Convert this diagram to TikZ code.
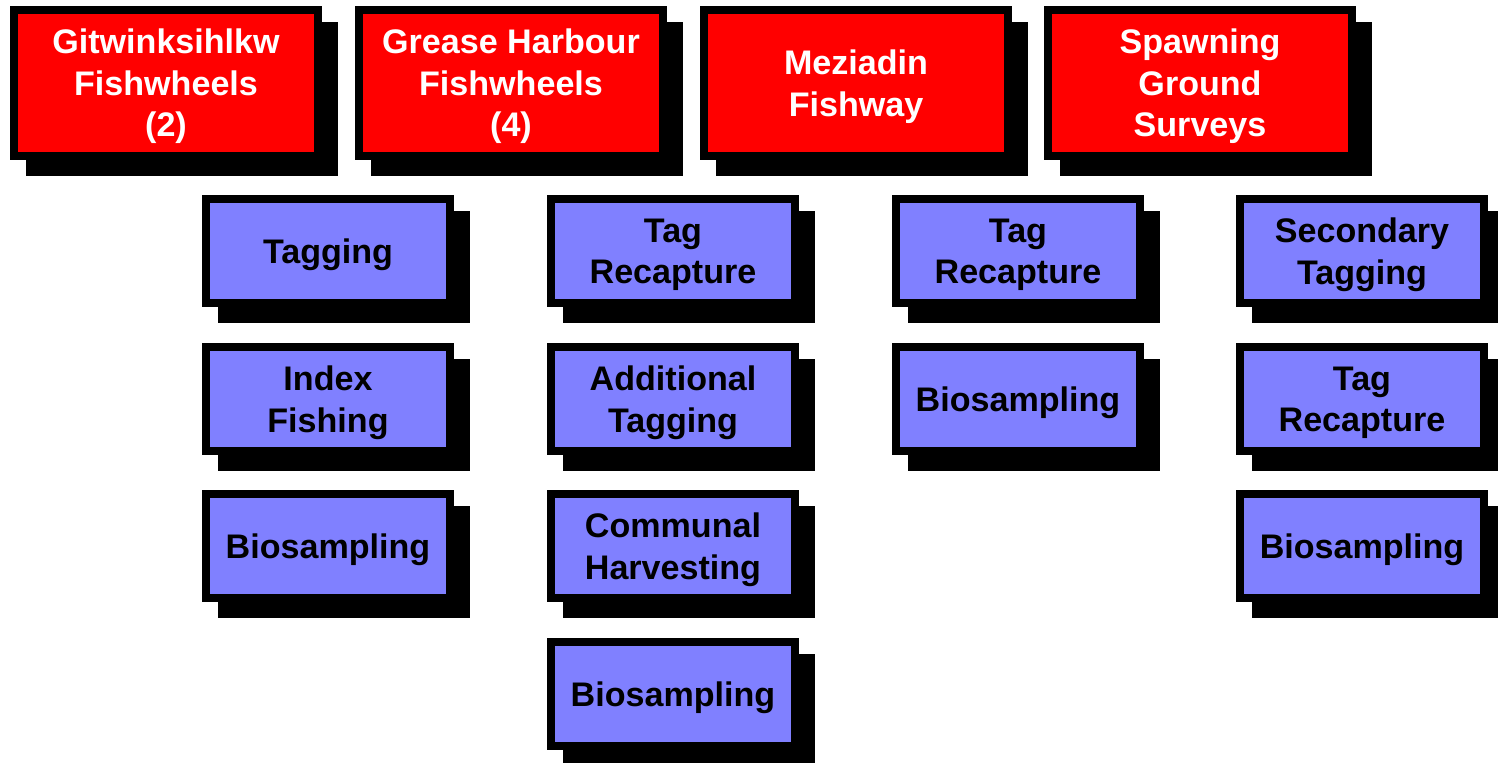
\documentclass[tikz,border=0pt]{standalone}
\usepackage{fontspec}
\setmainfont{Liberation Sans}
\usetikzlibrary{shadows}
\definecolor{site}{HTML}{FF0000}
\definecolor{task}{HTML}{8080FF}
\tikzset{
  box/.style={draw=black,line width=0.16cm,align=center,inner sep=0pt,text depth=0pt,
    font=\bfseries\fontsize{19.4}{23.6}\selectfont,
    general shadow={draw=black,fill=black,line width=0.16cm,
      shadow xshift=0.32cm,shadow yshift=-0.32cm}},
  sitebox/.style={box,fill=site,text=white,minimum width=6.08cm,minimum height=2.92cm},
  taskbox/.style={box,fill=task,text=black,minimum width=4.88cm,minimum height=2.08cm}
}
\begin{document}
\begin{tikzpicture}[x=0.02cm,y=-0.02cm]
\useasboundingbox (0,0) rectangle (1498,762);
\node[sitebox](gitwink) at (166,83){Gitwinksihlkw\\Fishwheels\\(2)};
\node[sitebox](grease) at (511,83){Grease Harbour\\Fishwheels\\(4)};
\node[sitebox](meziadin) at (856,83){Meziadin\\Fishway};
\node[sitebox](spawning) at (1200,83){Spawning\\Ground\\Surveys};
\node[taskbox](gtag) at (328,251){Tagging};
\node[taskbox](gindex) at (328,399){Index\\Fishing};
\node[taskbox](gbio) at (328,546){Biosampling};
\node[taskbox](hrecap) at (673,251){Tag\\Recapture};
\node[taskbox](hadd) at (673,399){Additional\\Tagging};
\node[taskbox](hcomm) at (673,546){Communal\\Harvesting};
\node[taskbox](hbio) at (673,694){Biosampling};
\node[taskbox](mrecap) at (1018,251){Tag\\Recapture};
\node[taskbox](mbio) at (1018,399){Biosampling};
\node[taskbox](ssec) at (1362,251){Secondary\\Tagging};
\node[taskbox](srecap) at (1362,399){Tag\\Recapture};
\node[taskbox](sbio) at (1362,546){Biosampling};
\end{tikzpicture}
\end{document}
